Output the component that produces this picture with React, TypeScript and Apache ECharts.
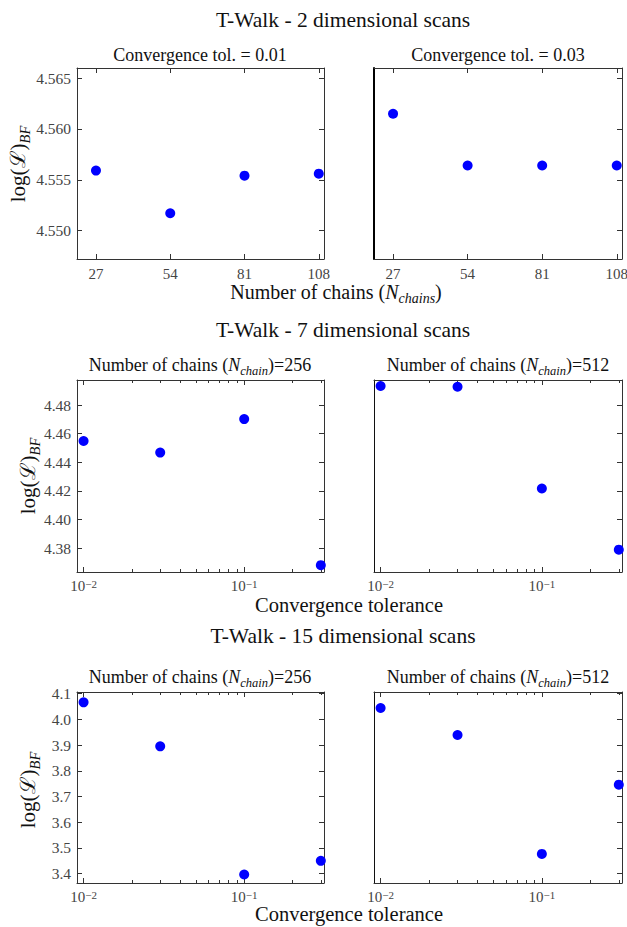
import React, { useEffect, useRef } from 'react';
import * as echarts from 'echarts';

// ---------- data ----------
const chainCounts = [27, 54, 81, 108];
const tol001Values = [4.5559, 4.5517, 4.5554, 4.5556];
const tol003Values = [4.5615, 4.5564, 4.5564, 4.5564];
const tolerances = [0.01, 0.03, 0.1, 0.3];
const dim7N256 = [4.4549, 4.4468, 4.4702, 4.3682];
const dim7N512 = [4.4933, 4.4928, 4.4217, 4.379];
const dim15N256 = [4.066, 3.895, 3.397, 3.45];
const dim15N512 = [4.044, 3.939, 3.477, 3.746];
const ticks2d = [4.55, 4.555, 4.56, 4.565];
const ticks7d = [4.38, 4.4, 4.42, 4.44, 4.46, 4.48];
const ticks15d = [3.4, 3.5, 3.6, 3.7, 3.8, 3.9, 4.0, 4.1];
const logMajorTicks = [0.01, 0.1];
const logMinorTicks = [0.02, 0.03, 0.04, 0.05, 0.06, 0.07, 0.08, 0.09, 0.2, 0.3];

// ---------- style / layout ----------
const FONT = 'Liberation Serif';
const AX = '#333333';
const LABEL = '#444444';
const rows = [
  { top: 68, height: 191 },
  { top: 380, height: 192 },
  { top: 692, height: 191 },
];
const cols = [
  { left: 77, width: 247 },
  { left: 374, width: 248 },
];

const logFmt = (v: number) => {
  const e = Math.round(Math.log10(v));
  return '{b|10}{p|' + (e < 0 ? '−' : '') + Math.abs(e) + '}';
};
const logRich = {
  b: { fontFamily: FONT, fontSize: 15, color: LABEL, lineHeight: 15, verticalAlign: 'bottom' },
  p: { fontFamily: FONT, fontSize: 11, color: LABEL, lineHeight: 10, verticalAlign: 'top' },
};

function buildOption() {
  const grids: any[] = [];
  const xAxes: any[] = [];
  const yAxes: any[] = [];
  const series: any[] = [];

  const addPanel = (
    row: number,
    col: number,
    xs: number[],
    xSpec: any,
    ySpec: any,
    values: number[],
    leftSpine: any
  ) => {
    const rect = {
      left: cols[col].left,
      top: rows[row].top,
      width: cols[col].width,
      height: rows[row].height,
      containLabel: false,
      outerBoundsMode: 'none',
    };
    const g = grids.length;
    grids.push({ ...rect });
    const xBase = {
      gridIndex: g,
      type: xSpec.type,
      min: xSpec.min,
      max: xSpec.max,
      splitLine: { show: false },
      minorTick: { show: false },
      axisLine: { show: true, onZero: false, lineStyle: { color: AX, width: 1 } },
      axisTick: {
        show: true,
        inside: true,
        length: 5,
        customValues: xSpec.major,
        lineStyle: { color: AX, width: 1 },
      },
    };
    const xi = xAxes.length;
    xAxes.push({
      ...xBase,
      position: 'bottom',
      axisLabel: {
        show: true,
        customValues: xSpec.major,
        formatter: xSpec.fmt,
        rich: xSpec.rich,
        color: LABEL,
        fontFamily: FONT,
        fontSize: 15,
        margin: xSpec.labelMargin,
      },
    });
    xAxes.push({ ...xBase, position: 'top', axisLabel: { show: false } });

    const yBase = {
      gridIndex: g,
      type: 'value',
      min: ySpec.min,
      max: ySpec.max,
      splitLine: { show: false },
    };
    const yi = yAxes.length;
    yAxes.push({
      ...yBase,
      position: 'left',
      axisLine: { show: true, onZero: false, lineStyle: leftSpine },
      axisTick: {
        show: col === 0,
        inside: true,
        length: 5,
        customValues: ySpec.ticks,
        lineStyle: { color: AX },
      },
      axisLabel: {
        show: col === 0,
        customValues: ySpec.ticks,
        formatter: (v: number) => v.toFixed(ySpec.digits),
        color: LABEL,
        fontFamily: FONT,
        fontSize: 15.5,
        margin: 6,
      },
    });
    yAxes.push({
      ...yBase,
      position: 'right',
      axisLine: { show: true, onZero: false, lineStyle: { color: AX, width: 1 } },
      axisTick: {
        show: true,
        inside: true,
        length: 5,
        customValues: ySpec.ticks,
        lineStyle: { color: AX },
      },
      axisLabel: { show: false },
    });
    series.push({
      type: 'scatter',
      xAxisIndex: xi,
      yAxisIndex: yi,
      data: xs.map((x, i) => [x, values[i]]),
      symbol: 'circle',
      symbolSize: 10,
      itemStyle: { color: '#0000ff', opacity: 1 },
      clip: false,
      silent: true,
    });

    if (xSpec.minor) {
      const g2 = grids.length;
      grids.push({ ...rect });
      const mBase = {
        gridIndex: g2,
        type: xSpec.type,
        min: xSpec.min,
        max: xSpec.max,
        splitLine: { show: false },
        axisLine: { show: false },
        axisLabel: { show: false },
        axisTick: {
          show: true,
          inside: true,
          length: 3,
          customValues: xSpec.minor,
          lineStyle: { color: AX, width: 1 },
        },
      };
      xAxes.push({ ...mBase, position: 'bottom' });
      xAxes.push({ ...mBase, position: 'top' });
      yAxes.push({ gridIndex: g2, type: 'value', show: false, min: 0, max: 1 });
    }
  };

  const xChains = {
    type: 'value',
    min: 20.1,
    max: 109.9,
    major: chainCounts,
    fmt: (v: number) => String(Math.round(v)),
    labelMargin: 7,
  };
  const xTol = {
    type: 'log',
    min: 0.0091,
    max: 0.314,
    major: logMajorTicks,
    minor: logMinorTicks,
    fmt: logFmt,
    rich: logRich,
    labelMargin: 6,
  };
  const y2 = { min: 4.5472, max: 4.566, ticks: ticks2d, digits: 3 };
  const y7 = { min: 4.3634, max: 4.4975, ticks: ticks7d, digits: 2 };
  const y15 = { min: 3.364, max: 4.106, ticks: ticks15d, digits: 1 };

  const normalSpine = { color: AX, width: 1 };
  addPanel(0, 0, chainCounts, xChains, y2, tol001Values, normalSpine);
  addPanel(0, 1, chainCounts, xChains, y2, tol003Values, { color: '#000', width: 2 });
  addPanel(1, 0, tolerances, xTol, y7, dim7N256, normalSpine);
  addPanel(1, 1, tolerances, xTol, y7, dim7N512, { color: '#111', width: 1 });
  addPanel(2, 0, tolerances, xTol, y15, dim15N256, normalSpine);
  addPanel(2, 1, tolerances, xTol, y15, dim15N512, { color: '#111', width: 1 });

  const base = { fontFamily: FONT, fill: '#111' };
  const txt = (x: number, y: number, text: string, size: number, rich?: any, rotation = 0) => ({
    type: 'text',
    x,
    y,
    rotation,
    silent: true,
    style: {
      ...base,
      text,
      fontSize: size,
      align: 'center',
      verticalAlign: 'middle',
      rich,
    },
  });

  const mkRich = (size: number, sub: number) => ({
    r: { fontFamily: FONT, fontSize: size, color: '#111', lineHeight: size + 7, verticalAlign: 'middle' },
    i: { fontFamily: FONT, fontSize: size, color: '#111', fontStyle: 'italic', lineHeight: size + 7, verticalAlign: 'middle' },
    s: { fontFamily: FONT, fontSize: sub, color: '#111', fontStyle: 'italic', lineHeight: sub + 1, verticalAlign: 'bottom' },
  });
  const chainRich = mkRich(18, 12.5);
  const xlabRich = mkRich(20, 14);
  const ylabRich = mkRich(21, 14.5);
  const yLabel = '{r|log(ℒ)}{s|BF}';

  const graphics = [
    txt(343, 20, 'T-Walk - 2 dimensional scans', 21.5),
    txt(343, 330, 'T-Walk - 7 dimensional scans', 21.5),
    txt(343, 636, 'T-Walk - 15 dimensional scans', 21.5),
    txt(200, 55, 'Convergence tol. = 0.01', 18),
    txt(498, 55, 'Convergence tol. = 0.03', 18),
    txt(200, 365, '{r|Number of chains (}{i|N}{s|chain}{r|)=256}', 18, chainRich),
    txt(498, 365, '{r|Number of chains (}{i|N}{s|chain}{r|)=512}', 18, chainRich),
    txt(200, 677, '{r|Number of chains (}{i|N}{s|chain}{r|)=256}', 18, chainRich),
    txt(498, 677, '{r|Number of chains (}{i|N}{s|chain}{r|)=512}', 18, chainRich),
    txt(336, 292, '{r|Number of chains (}{i|N}{s|chains}{r|)}', 20, xlabRich),
    txt(349, 605, 'Convergence tolerance', 20.5),
    txt(349, 914, 'Convergence tolerance', 20.5),
    txt(18, 164, yLabel, 21, ylabRich, Math.PI / 2),
    txt(28, 476, yLabel, 21, ylabRich, Math.PI / 2),
    txt(28, 790, yLabel, 21, ylabRich, Math.PI / 2),
  ];

  return {
    animation: false,
    backgroundColor: '#ffffff',
    grid: grids,
    xAxis: xAxes,
    yAxis: yAxes,
    series,
    graphic: graphics,
  };
}

export default function App() {
  const ref = useRef<HTMLDivElement>(null);
  useEffect(() => {
    document.body.style.margin = '0';
    if (!ref.current) return;
    const chart = echarts.init(ref.current, undefined, { renderer: 'svg' });
    chart.setOption(buildOption() as any);
    return () => chart.dispose();
  }, []);
  return <div ref={ref} style={{ width: 627, height: 927 }} />;
}
